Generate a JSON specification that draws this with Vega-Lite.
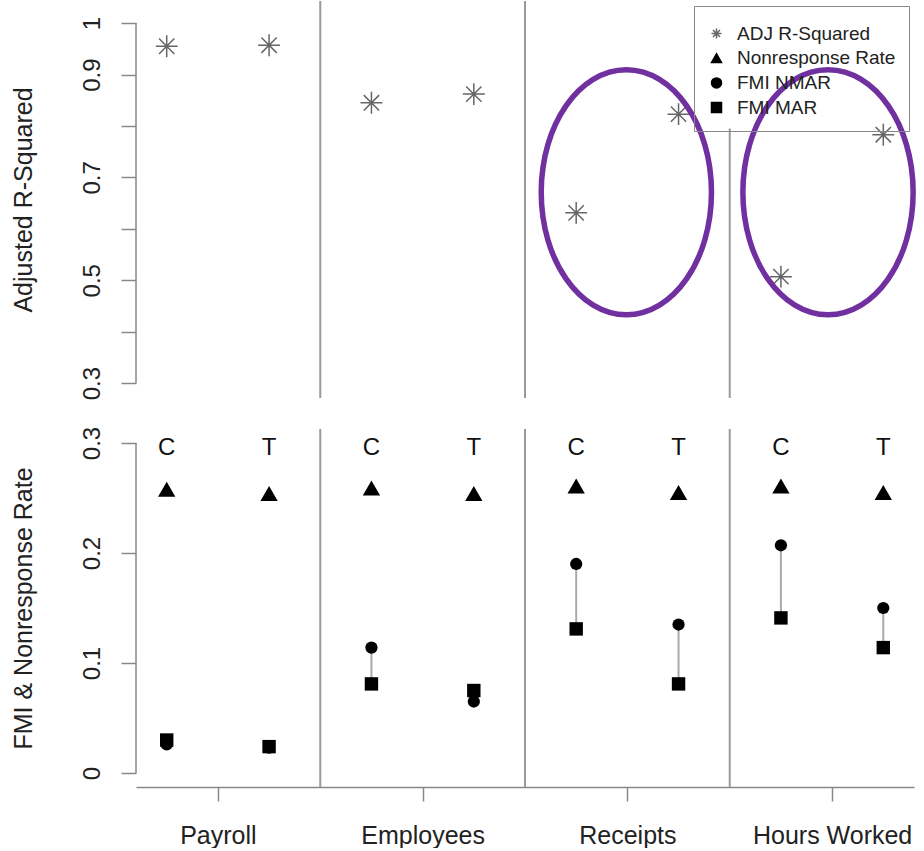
{
  "$schema": "https://vega.github.io/schema/vega-lite/v6.json",
  "padding": {"left": 11, "top": 0, "right": 0, "bottom": 0},
  "background": "white",
  "spacing": 31,
  "bounds": "flush",
  "config": {
    "font": "Liberation Sans",
    "view": {"stroke": null},
    "axisY": {
      "domain": false, "grid": false, "tickColor": "#888", "tickSize": 15, "tickWidth": 1.5,
      "labelAngle": -90, "labelAlign": "center", "labelBaseline": "bottom", "labelPadding": 17,
      "labelFontSize": 24, "labelColor": "#222", "labelFlush": false, "labelOverlap": false,
      "titleFontSize": 25, "titleFontWeight": "normal", "titleColor": "#222", "titlePadding": 44
    }
  },
  "datasets": {
    "main": [
      {"variable": "Payroll", "type": "C", "pos": 1, "adj": 0.955, "nonresp": 0.258, "nmar": 0.026, "mar": 0.030},
      {"variable": "Payroll", "type": "T", "pos": 2, "adj": 0.957, "nonresp": 0.254, "nmar": 0.023, "mar": 0.024},
      {"variable": "Employees", "type": "C", "pos": 3, "adj": 0.845, "nonresp": 0.259, "nmar": 0.114, "mar": 0.081},
      {"variable": "Employees", "type": "T", "pos": 4, "adj": 0.862, "nonresp": 0.254, "nmar": 0.065, "mar": 0.075},
      {"variable": "Receipts", "type": "C", "pos": 5, "adj": 0.631, "nonresp": 0.261, "nmar": 0.190, "mar": 0.131},
      {"variable": "Receipts", "type": "T", "pos": 6, "adj": 0.823, "nonresp": 0.255, "nmar": 0.135, "mar": 0.081},
      {"variable": "Hours Worked", "type": "C", "pos": 7, "adj": 0.507, "nonresp": 0.261, "nmar": 0.207, "mar": 0.141},
      {"variable": "Hours Worked", "type": "T", "pos": 8, "adj": 0.783, "nonresp": 0.255, "nmar": 0.150, "mar": 0.114}
    ],
    "seps": [{"pos": 2.5}, {"pos": 4.5}, {"pos": 6.5}],
    "axisline": [{"pos": 0.7}],
    "ellipses": [
      {"variable": "Receipts", "pos": 5.49, "adj": 0.671},
      {"variable": "Hours Worked", "pos": 7.46, "adj": 0.671}
    ]
  },
  "vconcat": [
    {
      "width": 778,
      "height": 397,
      "encoding": {
        "x": {"field": "pos", "type": "quantitative", "scale": {"domain": [0.7, 8.3], "nice": false, "zero": false}, "axis": null}
      },
      "layer": [
        {
          "data": {"name": "seps"},
          "transform": [{"filter": "datum.pos < 6"}],
          "mark": {"type": "rule", "color": "#999", "strokeWidth": 2},
          "encoding": {}
        },
        {
          "data": {"name": "seps"},
          "transform": [{"filter": "datum.pos > 6"}],
          "mark": {"type": "rule", "color": "#999", "strokeWidth": 2},
          "encoding": {
            "y": {"datum": 0.271, "type": "quantitative"},
            "y2": {"datum": 0.795}
          }
        },
        {
          "data": {"name": "axisline"},
          "mark": {"type": "rule", "color": "#888", "strokeWidth": 1.5},
          "encoding": {
            "y": {"datum": 0.3, "type": "quantitative"},
            "y2": {"datum": 1}
          }
        },
        {
          "data": {"name": "main"},
          "mark": {"type": "point", "filled": false, "strokeWidth": 1.5, "size": 480, "opacity": 1},
          "encoding": {
            "y": {
              "field": "adj", "type": "quantitative",
              "scale": {"domain": [0.271, 1.043], "nice": false, "zero": false},
              "axis": {
                "title": "Adjusted R-Squared",
                "values": [0.3, 0.4, 0.5, 0.6, 0.7, 0.8, 0.9, 1],
                "labelExpr": "indexof([0.4, 0.6, 0.8], datum.value) >= 0 ? '' : toString(datum.value)"
              }
            },
            "fill": {
              "datum": "ADJ R-Squared",
              "type": "nominal",
              "scale": {
                "domain": ["ADJ R-Squared", "Nonresponse Rate", "FMI NMAR", "FMI MAR"],
                "range": ["transparent", "black", "black", "black"]
              }
            },
            "stroke": {
              "datum": "ADJ R-Squared",
              "type": "nominal",
              "scale": {
                "domain": ["ADJ R-Squared", "Nonresponse Rate", "FMI NMAR", "FMI MAR"],
                "range": ["#666", "black", "black", "black"]
              }
            },
            "shape": {
              "datum": "ADJ R-Squared",
              "type": "nominal",
              "scale": {
                "domain": ["ADJ R-Squared", "Nonresponse Rate", "FMI NMAR", "FMI MAR"],
                "range": ["M -1 0 L 1 0 M 0 -1 L 0 1 M -0.7 -0.7 L 0.7 0.7 M -0.7 0.7 L 0.7 -0.7", "triangle-up", "circle", "square"]
              },
              "legend": {
                "title": " ",
                "titleFontSize": 5,
                "titlePadding": 0,
                "orient": "top-right",
                "offset": 5,
                "strokeColor": "#888",
                "fillColor": "transparent",
                "padding": 13,
                "labelFontSize": 19,
                "labelColor": "#222",
                "labelOffset": 11,
                "labelLimit": 400,
                "symbolSize": 100,
                "symbolStrokeWidth": 1.5,
                "rowPadding": 4.7
              }
            }
          }
        },
        {
          "data": {"name": "ellipses"},
          "mark": {
            "type": "point",
            "shape": "M 0 -1 A 0.695 1 0 1 1 0 1 A 0.695 1 0 1 1 0 -1 Z",
            "filled": false, "stroke": "#7030A0", "strokeWidth": 5.5, "size": 60025, "opacity": 1
          },
          "encoding": {
            "y": {"field": "adj", "type": "quantitative"}
          }
        }
      ]
    },
    {
      "width": 778,
      "height": 358,
      "encoding": {
        "x": {
          "field": "pos", "type": "quantitative",
          "scale": {"domain": [0.7, 8.3], "nice": false, "zero": false},
          "axis": {
            "values": [1.5, 3.5, 5.5, 7.5],
            "labelExpr": "datum.value == 1.5 ? 'Payroll' : datum.value == 3.5 ? 'Employees' : datum.value == 5.5 ? 'Receipts' : 'Hours Worked'",
            "title": null, "grid": false,
            "domainColor": "#888", "domainWidth": 1.5,
            "tickColor": "#888", "tickSize": 14, "tickWidth": 1.5,
            "labelFontSize": 25, "labelColor": "#222", "labelPadding": 22, "labelAngle": 0,
            "labelFlush": false, "labelOverlap": false
          }
        }
      },
      "layer": [
        {
          "data": {"name": "seps"},
          "mark": {"type": "rule", "color": "#999", "strokeWidth": 2},
          "encoding": {}
        },
        {
          "data": {"name": "axisline"},
          "mark": {"type": "rule", "color": "#888", "strokeWidth": 1.5},
          "encoding": {
            "y": {"datum": 0, "type": "quantitative"},
            "y2": {"datum": 0.3}
          }
        },
        {
          "data": {"name": "main"},
          "mark": {"type": "rule", "color": "#aaa", "strokeWidth": 2},
          "encoding": {
            "y": {"field": "nmar", "type": "quantitative"},
            "y2": {"field": "mar"}
          }
        },
        {
          "data": {"name": "main"},
          "mark": {"type": "point", "shape": "triangle-up", "filled": true, "color": "black", "size": 300, "opacity": 1},
          "encoding": {
            "y": {
              "field": "nonresp", "type": "quantitative",
              "scale": {"domain": [-0.0127, 0.3127], "nice": false, "zero": false},
              "axis": {
                "title": "FMI & Nonresponse Rate",
                "values": [0, 0.1, 0.2, 0.3],
                "labelExpr": "toString(datum.value)"
              }
            }
          }
        },
        {
          "data": {"name": "main"},
          "mark": {"type": "point", "shape": "circle", "filled": true, "color": "black", "size": 150, "opacity": 1},
          "encoding": {
            "y": {"field": "nmar", "type": "quantitative"}
          }
        },
        {
          "data": {"name": "main"},
          "mark": {"type": "point", "shape": "square", "filled": true, "color": "black", "size": 180, "opacity": 1},
          "encoding": {
            "y": {"field": "mar", "type": "quantitative"}
          }
        },
        {
          "data": {"name": "main"},
          "mark": {"type": "text", "fontSize": 24, "color": "#111", "baseline": "middle", "align": "center"},
          "encoding": {
            "y": {"datum": 0.2955, "type": "quantitative"},
            "text": {"field": "type"}
          }
        }
      ]
    }
  ]
}
